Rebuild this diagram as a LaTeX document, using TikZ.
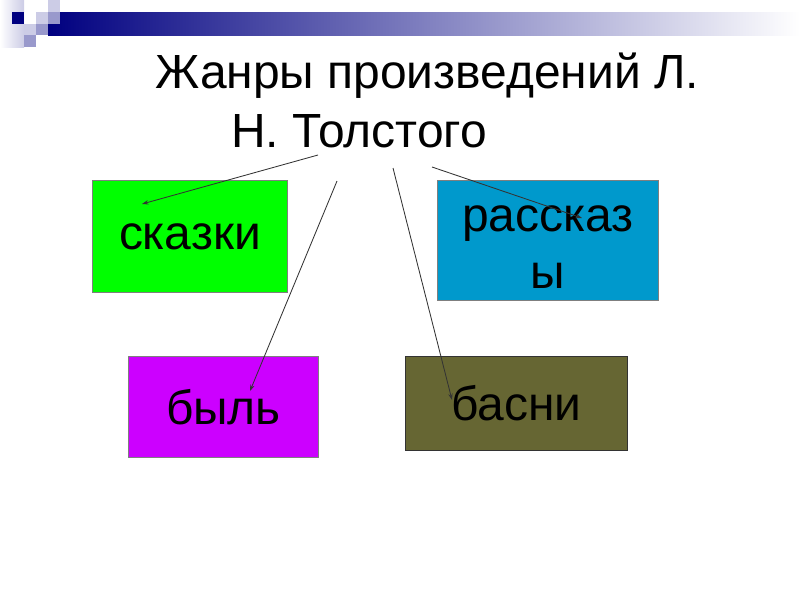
\documentclass[tikz,border=0pt]{standalone}
\usepackage{fontspec}
\setmainfont{Liberation Sans}
\usetikzlibrary{arrows.meta,calc}
\definecolor{barNavy}{HTML}{000080}
\definecolor{barLight}{HTML}{CCCCE6}
\definecolor{barMid}{HTML}{9999CC}
\definecolor{genreTale}{HTML}{00FF00}
\definecolor{genreStory}{HTML}{0099CC}
\definecolor{genreTrue}{HTML}{CC00FF}
\definecolor{genreFable}{HTML}{666633}
\definecolor{linkDark}{HTML}{333333}
\definecolor{boxEdge}{HTML}{7F7F7F}

\begin{document}
\begin{tikzpicture}[
  x=0.025cm, y=-0.025cm,
  font=\fontsize{34.1pt}{40.5pt}\selectfont,
  genre/.style={
    draw=boxEdge, line width=0.6pt, anchor=north west,
    inner sep=0pt, align=center
  },
  title/.style={anchor=base west, inner sep=0pt},
  link/.style={-{Stealth[length=1.6mm,width=1.1mm]}, line width=0.6pt, draw=linkDark}
]
\useasboundingbox (0,0) rectangle (800,600);

% Header band with tiles
\shade[left color=barNavy, right color=white] (48,12) rectangle (800,35);
\shade[left color=white, right color=barLight] (0,0) rectangle (24,47);
\fill[barNavy] (12,12) rectangle (24,24);
\fill[barLight] (48,0) rectangle (60,12);
\fill[barLight] (36,12) rectangle (48,24);
\fill[barMid] (48,12) rectangle (60,24);
\fill[barLight] (24,24) rectangle (36,35);
\fill[barMid] (36,24) rectangle (48,35);
\fill[barMid] (24,35) rectangle (36,47);

% Title
\node[title] (titleA) at (155,88) {Жанры произведений Л.};
\node[title] (titleB) at (231,147) {Н. Толстого};

% Genres
\node[genre, fill=genreTale, minimum width=4.875cm, minimum height=2.8cm] (tale) at (92,180) {сказки};
\node[genre, fill=genreStory, minimum width=5.525cm, minimum height=3cm] (story) at (437,180) {\strut рассказ\\ы};
\node[genre, fill=genreTrue, minimum width=4.75cm, minimum height=2.525cm] (truestory) at (128,356) {быль};
\node[genre, fill=genreFable, draw=black!80, minimum width=5.55cm, minimum height=2.35cm] (fable) at (405,356) {басни};

% Links from the title
\coordinate (fromTale) at (318,155);
\coordinate (fromTrue) at (337,181);
\coordinate (fromFable) at (393,168);
\coordinate (fromStory) at (432,167);

\draw[link] (fromTale) -- ($(tale.north west)+(50,24)$);
\draw[link] (fromTrue) -- ($(truestory.north west)+(122,35)$);
\draw[link] (fromFable) -- ($(fable.north west)+(47,44)$);
\draw[link] (fromStory) -- ($(story.north west)+(145,38)$);

\end{tikzpicture}
\end{document}
